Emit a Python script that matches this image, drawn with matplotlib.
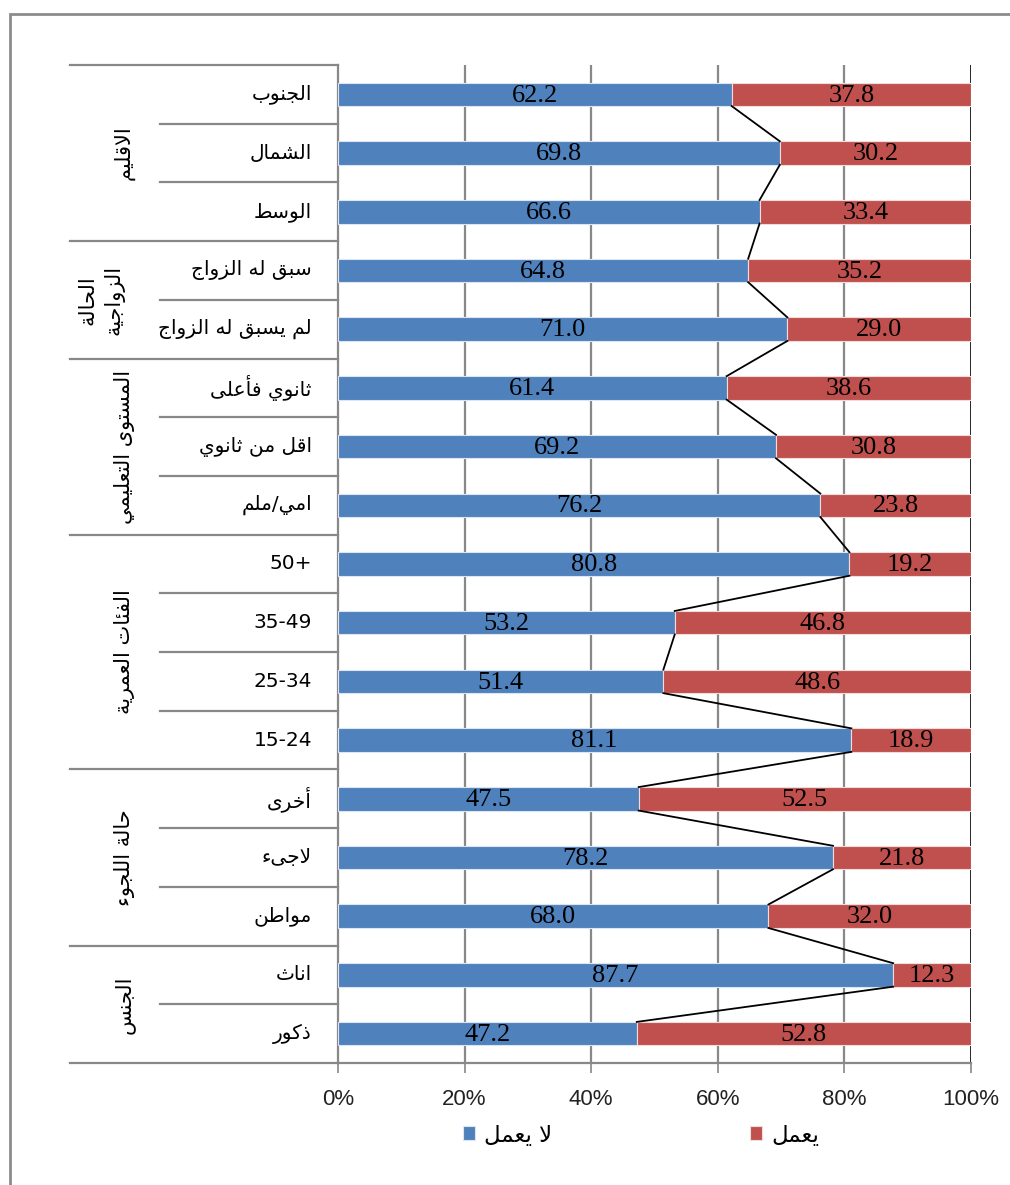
import matplotlib
matplotlib.use("Agg")
import matplotlib.pyplot as plt
from matplotlib.patches import Rectangle
import matplotlib.transforms as mtransforms

# ---------------- data (top to bottom) ----------------
categories = ["الجنوب", "الشمال", "الوسط",
              "سبق له الزواج", "لم يسبق له الزواج",
              "ثانوي فأعلى", "اقل من ثانوي", "امي/ملم",
              "50+", "35-49", "25-34", "15-24",
              "أخرى", "لاجىء", "مواطن",
              "اناث", "ذكور"]
not_working = [62.2, 69.8, 66.6, 64.8, 71.0, 61.4, 69.2, 76.2, 80.8,
               53.2, 51.4, 81.1, 47.5, 78.2, 68.0, 87.7, 47.2]
working = [37.8, 30.2, 33.4, 35.2, 29.0, 38.6, 30.8, 23.8, 19.2,
           46.8, 48.6, 18.9, 52.5, 21.8, 32.0, 12.3, 52.8]
groups = ["الاقليم", "الحالة\nالزواجية", "المستوى التعليمي",
          "الفئات العمرية", "حالة اللجوء", "الجنس"]
group_sizes = [3, 2, 3, 4, 3, 2]
series_names = ["لا يعمل", "يعمل"]
xtick_labels = ["0%", "20%", "40%", "60%", "80%", "100%"]

# ---------------- simple Arabic shaping ----------------
DUAL = {'ب': 0xFE8F, 'ت': 0xFE95, 'ث': 0xFE99, 'ج': 0xFE9D, 'ح': 0xFEA1,
        'خ': 0xFEA5, 'س': 0xFEB1, 'ش': 0xFEB5, 'ص': 0xFEB9, 'ض': 0xFEBD,
        'ط': 0xFEC1, 'ظ': 0xFEC5, 'ع': 0xFEC9, 'غ': 0xFECD, 'ف': 0xFED1,
        'ق': 0xFED5, 'ك': 0xFED9, 'ل': 0xFEDD, 'م': 0xFEE1, 'ن': 0xFEE5,
        'ه': 0xFEE9, 'ي': 0xFEF1, 'ئ': 0xFE89}
RIGHT = {'آ': 0xFE81, 'أ': 0xFE83, 'ؤ': 0xFE85, 'إ': 0xFE87, 'ا': 0xFE8D,
         'ة': 0xFE93, 'د': 0xFEA9, 'ذ': 0xFEAB, 'ر': 0xFEAD, 'ز': 0xFEAF,
         'و': 0xFEED, 'ى': 0xFEEF}
LAMALEF = {'آ': 0xFEF5, 'أ': 0xFEF7, 'إ': 0xFEF9, 'ا': 0xFEFB}


def is_arabic(ch):
    return '\u0600' <= ch <= '\u06FF'


def shape_line(s):
    if not any(is_arabic(c) for c in s):
        return s
    units = []
    i = 0
    while i < len(s):
        c = s[i]
        if c == 'ل' and i + 1 < len(s) and s[i + 1] in LAMALEF:
            units.append(('LA', LAMALEF[s[i + 1]]))
            i += 2
            continue
        if c in DUAL:
            units.append(('D', DUAL[c]))
        elif c in RIGHT:
            units.append(('R', RIGHT[c]))
        elif c == 'ء':
            units.append(('N', 0xFE80))
        else:
            units.append(('X', c))
        i += 1
    out = []
    n = len(units)
    for k, (t, v) in enumerate(units):
        if t == 'X':
            out.append(v)
            continue
        if t == 'N':
            out.append(chr(v))
            continue
        prev_j = k > 0 and units[k - 1][0] == 'D'
        next_j = t == 'D' and k + 1 < n and units[k + 1][0] in ('D', 'R', 'LA')
        if t in ('R', 'LA'):
            out.append(chr(v + 1) if prev_j else chr(v))
        else:
            if prev_j and next_j:
                out.append(chr(v + 3))
            elif prev_j:
                out.append(chr(v + 1))
            elif next_j:
                out.append(chr(v + 2))
            else:
                out.append(chr(v))
    return ''.join(out)[::-1]


def ar(s):
    return '\n'.join(shape_line(line) for line in s.split('\n'))


# ---------------- figure ----------------
W, H = 1010, 1185
fig = plt.figure(figsize=(W / 100, H / 100), dpi=100)
fig.patch.set_facecolor('white')

x0, x1 = 338, 971
y0, y1 = 65, 1063
ax = fig.add_axes([x0 / W, 1 - y1 / H, (x1 - x0) / W, (y1 - y0) / H])

n = len(categories)
ypos = list(range(n))
bar_h = 0.4
blue = '#4F81BD'
red = '#C0504D'

b1 = ax.barh(ypos, not_working, height=bar_h, color=blue,
             edgecolor='#DCE6F2', linewidth=0.8, label=ar(series_names[0]), zorder=3)
b2 = ax.barh(ypos, working, left=not_working, height=bar_h, color=red,
             edgecolor='#F2DCDB', linewidth=0.8, label=ar(series_names[1]), zorder=3)

# series lines between bars
for i in range(n - 1):
    ax.plot([not_working[i], not_working[i + 1]],
            [i + bar_h / 2, i + 1 - bar_h / 2],
            color='black', lw=1.3, zorder=4)

# value labels
for i in range(n):
    ax.text(not_working[i] / 2, i + 0.02, f"{not_working[i]:.1f}", ha='center', va='center',
            family='Liberation Serif', fontsize=19, color='black', zorder=5)
    ax.text(not_working[i] + working[i] / 2, i + 0.02, f"{working[i]:.1f}", ha='center',
            va='center', family='Liberation Serif', fontsize=19, color='black', zorder=5)

ax.set_xlim(0, 100)
ax.set_ylim(n - 0.5, -0.5)
ax.set_xticks([0, 20, 40, 60, 80, 100])
ax.set_xticklabels(xtick_labels, family='Liberation Sans', fontsize=16, color='#222222')
ax.set_yticks([])
ax.tick_params(axis='x', length=7, width=1.2, color='#888888', pad=12)
for x in [20, 40, 60, 80]:
    ax.axvline(x, color='#888888', lw=1.6, zorder=1)
ax.axvline(100, color='#111111', lw=2, zorder=1)
for sp in ['top', 'right']:
    ax.spines[sp].set_visible(False)
ax.spines['left'].set_color('#888888')
ax.spines['left'].set_linewidth(1.6)
ax.spines['bottom'].set_color('#888888')
ax.spines['bottom'].set_linewidth(1.6)

# category & group labels
trans = mtransforms.blended_transform_factory(ax.transAxes, ax.transData)
px = 1.0 / (x1 - x0)
lab_x = (312 - x0) * px
inner_x = (160 - x0) * px
outer_x = (70 - x0) * px
for i, c in enumerate(categories):
    ax.text(lab_x, i, ar(c), transform=trans, ha='right', va='center',
            family='DejaVu Sans', fontsize=14.5, color='black')

start = 0
for g, size in zip(groups, group_sizes):
    end = start + size
    for k in range(start + 1, end):
        ax.plot([inner_x, 0], [k - 0.5, k - 0.5], transform=trans, color='#888888',
                lw=1.6, clip_on=False)
    ax.plot([outer_x, 0], [end - 0.5, end - 0.5], transform=trans, color='#888888',
            lw=1.6, clip_on=False)
    gx = (124 - x0) * px if '\n' not in g else (101 - x0) * px
    ax.text(gx, (start + end - 1) / 2, ar(g), transform=trans, ha='center', va='center',
            rotation=90, family='DejaVu Sans', fontsize=15, color='black',
            linespacing=1.35, multialignment='center')
    start = end
ax.plot([outer_x, 0], [-0.5, -0.5], transform=trans, color='#888888', lw=1.6,
        clip_on=False)

# legend
fig.legend(handles=[b1, b2], labels=[ar(series_names[0]), ar(series_names[1])],
           loc='center', bbox_to_anchor=(641 / W, 1 - 1135 / H), ncol=2,
           frameon=False, prop={'family': 'DejaVu Sans', 'size': 16.5},
           handlelength=0.55, handleheight=0.55, handletextpad=0.4,
           columnspacing=8.6)

# outer chart border
fig.patches.append(Rectangle((10 / W, -0.05), 1.1, 1 - 14 / H + 0.05,
                             transform=fig.transFigure, fill=False,
                             edgecolor='#8C8C8C', lw=2))

fig.savefig('out.png', dpi=100, facecolor='white')
